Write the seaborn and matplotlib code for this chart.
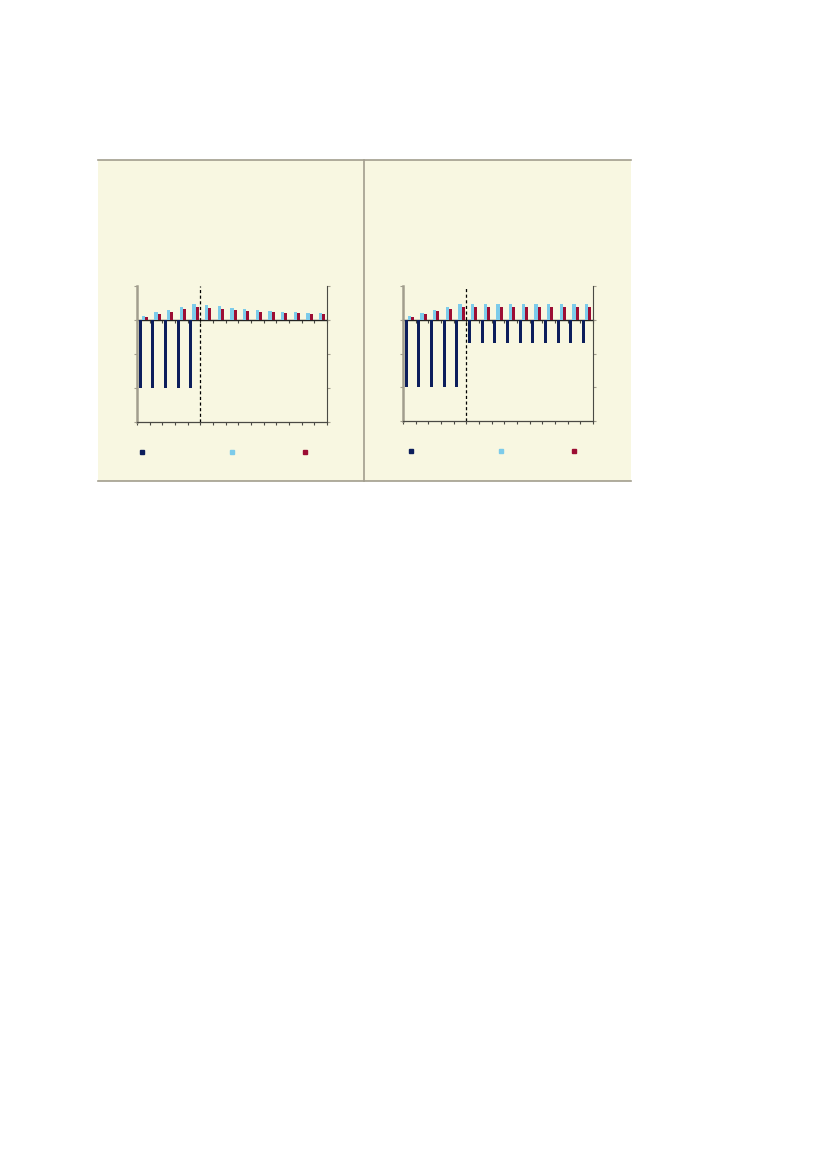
import pandas as pd
import numpy as np
import seaborn as sns
import matplotlib.pyplot as plt
from matplotlib.patches import Rectangle
from matplotlib.lines import Line2D

# datos (15 periodos, sin etiquetas visibles)
periodos = list(range(1, 16))
series = ["serie_a", "serie_b", "serie_c"]
colores = {"serie_a": "#0c1e5c", "serie_b": "#7ccbea", "serie_c": "#9c0d33"}

izq_a = [-2, -2, -2, -2, -2, 0, 0, 0, 0, 0, 0, 0, 0, 0, 0]
izq_b = [0.12, 0.23, 0.30, 0.39, 0.46, 0.43, 0.40, 0.36, 0.33, 0.30, 0.27, 0.25, 0.24, 0.22, 0.21]
izq_c = [0.10, 0.19, 0.25, 0.32, 0.38, 0.35, 0.32, 0.29, 0.27, 0.25, 0.23, 0.21, 0.20, 0.19, 0.17]

der_a = [-2, -2, -2, -2, -2, -0.69, -0.69, -0.69, -0.69, -0.69, -0.69, -0.69, -0.69, -0.69, -0.69]
der_b = [0.10, 0.21, 0.30, 0.38, 0.46, 0.46, 0.46, 0.46, 0.46, 0.46, 0.46, 0.46, 0.46, 0.46, 0.46]
der_c = [0.08, 0.17, 0.25, 0.31, 0.37, 0.37, 0.37, 0.37, 0.37, 0.37, 0.37, 0.37, 0.37, 0.37, 0.37]

y_ticks = [-3, -2, -1, 0, 1]

fondo = "#f8f7e1"
gris = "#a29e8e"
oscuro = "#4a4a44"


def armar_df(a, b, c):
    filas = []
    for nombre, valores in zip(series, [a, b, c]):
        for p, v in zip(periodos, valores):
            filas.append({"periodo": p, "serie": nombre, "valor": v})
    return pd.DataFrame(filas)


def grafico_panel(ax, df, pos_leyenda):
    sns.barplot(data=df, x="periodo", y="valor", hue="serie", hue_order=series,
                palette=colores, width=0.72, ax=ax, legend=False, saturation=1,
                errorbar=None)
    ax.set_facecolor(fondo)
    ax.set_ylim(-3, 1)
    ax.set_xlim(-0.5, len(periodos) - 0.5)
    ax.set_xlabel("")
    ax.set_ylabel("")
    ax.set_yticks(y_ticks)
    ax.set_yticklabels([])
    ax.set_xticks(np.arange(-0.5, len(periodos), 1.0))
    ax.set_xticklabels([])
    ax.tick_params(axis="x", direction="out", length=2.5, width=0.8, color=oscuro)
    ax.tick_params(axis="y", which="both", left=True, right=True, direction="out",
                   length=2, width=0.8, color=gris)
    ax.spines["top"].set_visible(False)
    ax.spines["left"].set_color(gris)
    ax.spines["left"].set_linewidth(1.8)
    ax.spines["right"].set_color(oscuro)
    ax.spines["right"].set_linewidth(0.8)
    ax.spines["bottom"].set_color(oscuro)
    ax.spines["bottom"].set_linewidth(0.9)

    # eje de categorias en cero
    eje_cero = ax.secondary_xaxis(0.75)
    eje_cero.set_xticks(np.arange(-0.5, len(periodos), 1.0))
    eje_cero.set_xticklabels([])
    eje_cero.tick_params(direction="in", length=2.5, width=0.8, color=oscuro)
    for lado in ["top", "bottom"]:
        eje_cero.spines[lado].set_color("#222222")
        eje_cero.spines[lado].set_linewidth(1.0)

    # separacion historico / proyeccion
    ax.axvline(4.5, color="black", linestyle=(0, (2.5, 2)), linewidth=0.9)

    manejadores = [Line2D([], [], marker="s", linestyle="none", markersize=3.2,
                          markerfacecolor=colores[s], markeredgecolor=colores[s])
                   for s in series]
    ax.legend(manejadores, ["     ", "", ""], ncol=3, frameon=False,
              loc="center left", bbox_to_anchor=pos_leyenda,
              handlelength=0.6, handletextpad=0.0, columnspacing=5.95,
              fontsize=8, borderaxespad=0)


fig = plt.figure(figsize=(8.27, 11.69), dpi=100)
fig.patch.set_facecolor("white")

# recuadro beige con bordes
fig.add_artist(Rectangle((98 / 827, 1 - 481 / 1169), 533 / 827, 321 / 1169,
                         transform=fig.transFigure, facecolor=fondo,
                         edgecolor="none", zorder=0))
for yy in [1 - 160 / 1169, 1 - 481 / 1169]:
    fig.add_artist(Line2D([98 / 827, 631 / 827], [yy, yy], transform=fig.transFigure,
                          color=gris, linewidth=1.2))
fig.add_artist(Line2D([364 / 827, 364 / 827], [1 - 160 / 1169, 1 - 481 / 1169],
                      transform=fig.transFigure, color=gris, linewidth=1.2))

ax1 = fig.add_axes([137 / 827, 1 - 422 / 1169, 190 / 827, 136 / 1169])
ax2 = fig.add_axes([403 / 827, 1 - 421 / 1169, 190 / 827, 135 / 1169])

grafico_panel(ax1, armar_df(izq_a, izq_b, izq_c), (-0.015, -0.23))
grafico_panel(ax2, armar_df(der_a, der_b, der_c), (0.0, -0.23))

fig.savefig("out.png", dpi=100, facecolor="white")
